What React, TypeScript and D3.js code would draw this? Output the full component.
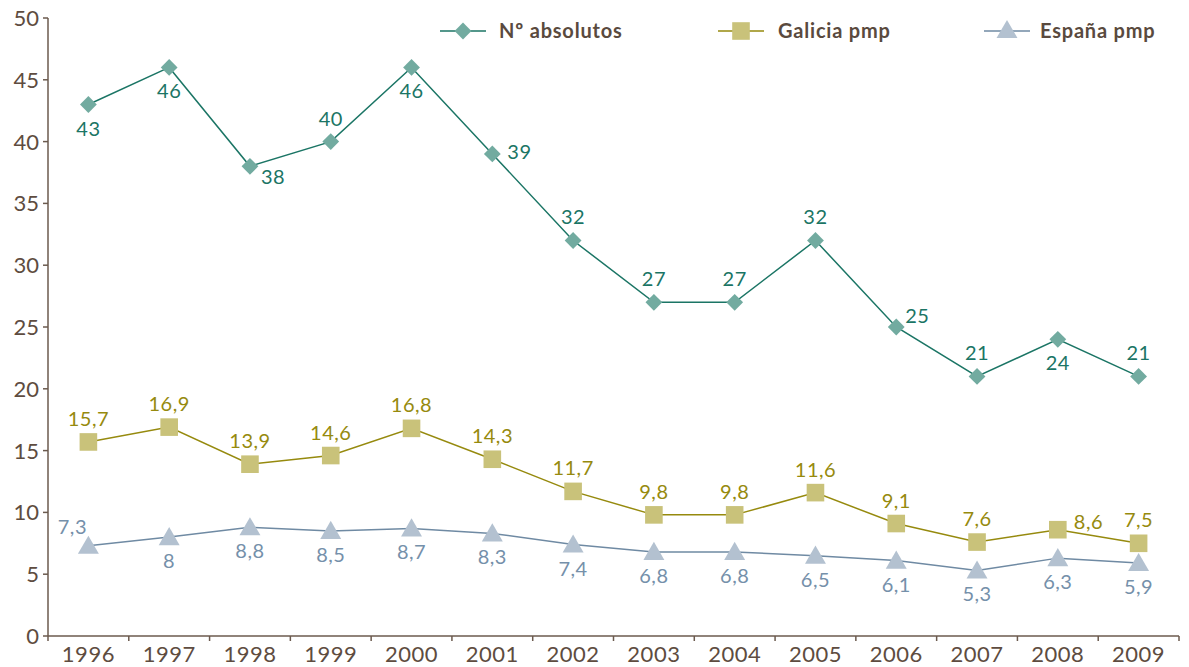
import React from "react";
import * as d3 from "d3";

const years = ["1996","1997","1998","1999","2000","2001","2002","2003","2004","2005","2006","2007","2008","2009"];
const absolutos = [43,46,38,40,46,39,32,27,27,32,25,21,24,21];
const galicia = [15.7,16.9,13.9,14.6,16.8,14.3,11.7,9.8,9.8,11.6,9.1,7.6,8.6,7.5];
const espana = [7.3,8,8.8,8.5,8.7,8.3,7.4,6.8,6.8,6.5,6.1,5.3,6.3,5.9];
const yTicks = [0,5,10,15,20,25,30,35,40,45,50];
// label placement per point: a=above, b=below, r=right, rh=right-high, ra=right-above, rb=right-below, la=left-above
const absPos = ["b","b","rb","a","b","r","a","a","a","a","ra","a","b","a"];
const galPos = ["a","a","a","a","a","a","a","a","a","a","a","a","rh","a"];
const espPos = ["la","b","b","b","b","b","b","b","b","b","b","b","b","b"];

const W = 1189, H = 667;
const x0 = 48, x1 = 1179, yTop = 18, yBot = 636;
const FONT = "Lato, 'Open Sans', sans-serif";

const fmt = (v: number) => String(v).replace(".", ",");

export default function App() {
  const x = d3.scaleBand<string>().domain(years).range([x0, x1]);
  const y = d3.scaleLinear().domain([0, 50]).range([yBot, yTop]);
  const cx = (i: number) => (x(years[i]) as number) + x.bandwidth() / 2;
  const line = d3.line<number>().x((_, i) => cx(i)).y((d) => y(d));

  const diamond = d3.symbol().type(d3.symbolDiamond2).size(180)();
  const square = d3.symbol().type(d3.symbolSquare).size(310)();
  const triangle = d3.symbol().type(d3.symbolTriangle).size(190)();

  const series = [
    { data: absolutos, pos: absPos, line: "#1b7565", fill: "#72aba0", text: "#1b7565", sym: diamond, name: "Nº absolutos" },
    { data: galicia, pos: galPos, line: "#968a0e", fill: "#c9c27a", text: "#968a0e", sym: square, name: "Galicia pmp" },
    { data: espana, pos: espPos, line: "#6f8aa3", fill: "#b3c1d0", text: "#7590aa", sym: triangle, name: "España pmp" },
  ];

  const labelXY = (p: string, px: number, py: number): [number, number, string] => {
    switch (p) {
      case "a": return [px, py - 16, "middle"];
      case "b": return [px, py + 31, "middle"];
      case "r": return [px + 15, py + 5, "start"];
      case "rh": return [px + 16, py - 1, "start"];
      case "ra": return [px + 9, py - 4, "start"];
      case "rb": return [px + 11, py + 18, "start"];
      case "la": return [px - 16, py - 12, "middle"];
      default: return [px, py, "middle"];
    }
  };

  const legend = [
    { lx: 440, tx: 499 },
    { lx: 718, tx: 778 },
    { lx: 984, tx: 1040 },
  ];

  return (
    <svg width={W} height={H} style={{ position: "absolute", left: 0, top: 0 }}>
      <rect width={W} height={H} fill="#fff" />
      {/* axes */}
      <g stroke="#6b5a4e" strokeWidth={1.5}>
        <line x1={x0} x2={x0} y1={yTop} y2={yBot + 5} />
        <line x1={x0} x2={x1} y1={yBot} y2={yBot} />
        {yTicks.map((t) => (
          <line key={t} x1={x0 - 5} x2={x0} y1={y(t)} y2={y(t)} />
        ))}
        {years.map((yr, i) => (
          <line key={yr} x1={x0 + (i + 1) * x.step()} x2={x0 + (i + 1) * x.step()} y1={yBot} y2={yBot + 5} />
        ))}
      </g>
      <g fill="#5e4c40" fontFamily={FONT} fontSize={22}>
        {yTicks.map((t) => (
          <text key={t} x={x0 - 9} y={y(t) + 8} textAnchor="end">{t}</text>
        ))}
        {years.map((yr, i) => (
          <text key={yr} x={cx(i)} y={yBot + 26} textAnchor="middle" letterSpacing={0.5}>{yr}</text>
        ))}
      </g>
      {/* series */}
      {series.map((s, si) => (
        <g key={si}>
          <path d={line(s.data) as string} fill="none" stroke={s.line} strokeWidth={1.5} />
          {s.data.map((v, i) => (
            <path key={i} d={s.sym as string} transform={`translate(${cx(i)},${y(v) + (si === 2 ? 2 : 0)})`} fill={s.fill} />
          ))}
          {s.data.map((v, i) => {
            const [lx, ly, anchor] = labelXY(s.pos[i], cx(i), y(v));
            return (
              <text key={"t" + i} x={lx} y={ly} textAnchor={anchor} fill={s.text} fontFamily={FONT} fontSize={20} letterSpacing={0.5}>{fmt(v)}</text>
            );
          })}
        </g>
      ))}
      {/* legend */}
      {series.map((s, i) => (
        <g key={"lg" + i}>
          <line x1={legend[i].lx} x2={legend[i].lx + 46} y1={31} y2={31} stroke={s.line} strokeWidth={1.5} />
          <path d={s.sym as string} transform={`translate(${legend[i].lx + 23},${31 + (i === 2 ? 1 : 0)})`} fill={s.fill} />
          <text x={legend[i].tx} y={38} fill="#5a4a3e" fontFamily={FONT} fontWeight={700} fontSize={20} letterSpacing={0.8}>{s.name}</text>
        </g>
      ))}
    </svg>
  );
}
